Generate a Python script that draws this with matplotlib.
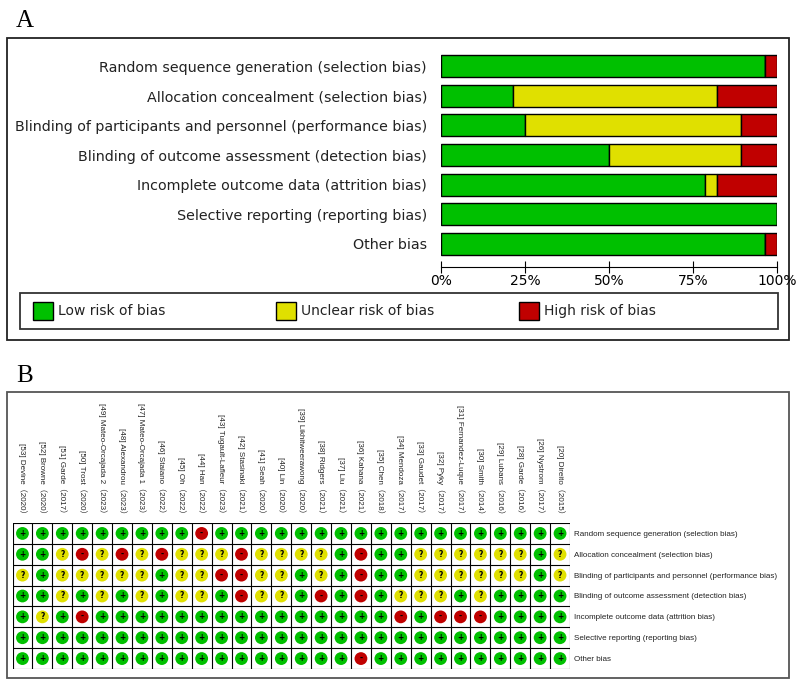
import matplotlib.pyplot as plt
from matplotlib import font_manager
from matplotlib.patches import Rectangle

# study labels (left to right in panel B)
studies = ['[53] Devine（2020）', '[52] Browne（2020）', '[51] Garde（2017）', '[50] Trost（2020）',
           '[49] Mateo-Orcajada 2（2023）', '[48] Alexandrou（2023）', '[47] Mateo-Orcajada 1（2023）',
           '[46] Staiano（2022）', '[45] Oh（2022）', '[44] Han（2022）', '[43] Tugault-Lafleur（2023）',
           '[42] Stasinaki（2021）', '[41] Seah（2020）', '[40] Lin（2020）', '[39] Likhitweerawong（2020）',
           '[38] Ridgers（2021）', '[37] Liu（2021）', '[36] Kahana（2021）', '[35] Chen（2018）',
           '[34] Mendoza（2017）', '[33] Gaudet（2017）', '[32] Pyky（2017）', '[31] Fernandez-Luque（2017）',
           '[30] Smith（2014）', '[29] Lubans（2016）', '[28] Garde（2016）', '[26] Nystrom（2017）',
           '[20] Direito（2015）']

domains = ['Random sequence generation (selection bias)',
           'Allocation concealment (selection bias)',
           'Blinding of participants and personnel (performance bias)',
           'Blinding of outcome assessment (detection bias)',
           'Incomplete outcome data (attrition bias)',
           'Selective reporting (reporting bias)',
           'Other bias']

# L = low, U = unclear, H = high risk; one entry per study
random_sequence = list('LLLLLLLLLHLLLL' + 'LLLLLLLLLLLLLL')
allocation      = list('LLUHUHUHUUUHUU' + 'UULHLLUUUUUULU')
blinding_part   = list('ULUUUUULUUHHUU' + 'LULHLLUUUUUULU')
blinding_outc   = list('LLULULULUULHUU' + 'LHLHLUUULULLLL')
incomplete      = list('LULHLLLLLLLLLL' + 'LLLLLHLHHHLLLL')
selective       = list('LLLLLLLLLLLLLL' + 'LLLLLLLLLLLLLL')
other           = list('LLLLLLLLLLLLLL' + 'LLLHLLLLLLLLLL')
judgements = [random_sequence, allocation, blinding_part, blinding_outc,
              incomplete, selective, other]

legend_labels = ['Low risk of bias', 'Unclear risk of bias', 'High risk of bias']
colors = {'L': '#00c000', 'U': '#e0e000', 'H': '#c00000'}
symbols = {'L': '+', 'U': '?', 'H': '-'}

W, H = 800, 696
fig = plt.figure(figsize=(W / 100, H / 100), dpi=100)


def px_axes(x0, y0, x1, y1):
    return fig.add_axes([x0 / W, 1 - y1 / H, (x1 - x0) / W, (y1 - y0) / H])


names = {f.name for f in font_manager.fontManager.ttflist}
small_font = 'Liberation Sans Narrow' if 'Liberation Sans Narrow' in names else 'Liberation Sans'
small_size = 7 if small_font == 'Liberation Sans Narrow' else 5.8

# overlay for frames, legend and panel letters
over = fig.add_axes([0, 0, 1, 1])
over.set_xlim(0, W)
over.set_ylim(H, 0)
over.axis('off')
over.add_patch(Rectangle((7, 38), 782, 302, fill=False, ec='#222222', lw=1.3))
over.add_patch(Rectangle((20, 293), 758, 36, fill=False, ec='#333333', lw=1.3))
over.add_patch(Rectangle((7, 392), 782, 286, fill=False, ec='#555555', lw=1.3))
over.text(16, 21, 'A', fontsize=18, family='Liberation Serif', va='center')
over.text(16, 376, 'B', fontsize=18, family='Liberation Serif', va='center')
for x, key, lab in zip([33, 276, 519], ['L', 'U', 'H'], legend_labels):
    over.add_patch(Rectangle((x, 302), 20, 18, fc=colors[key], ec='black', lw=1))
    over.text(x + 25, 311, lab, fontsize=10, va='center', color='#222222')

# ---- panel A: summary bars ----
n = len(studies)
low = [100 * d.count('L') / n for d in judgements]
unc = [100 * d.count('U') / n for d in judgements]
high = [100 * d.count('H') / n for d in judgements]
rows = range(len(domains))

axA = px_axes(441, 51.2, 777, 258.8)
axA.barh(rows, low, height=0.74, color=colors['L'], edgecolor='black', lw=1)
axA.barh(rows, unc, left=low, height=0.74, color=colors['U'], edgecolor='black', lw=1)
axA.barh(rows, high, left=[a + b for a, b in zip(low, unc)], height=0.74,
         color=colors['H'], edgecolor='black', lw=1)
axA.set_xlim(0, 100)
axA.set_ylim(6.5, -0.5)
for s in ['top', 'right', 'left']:
    axA.spines[s].set_visible(False)
axA.spines['bottom'].set_position(('outward', 6))
axA.set_yticks(list(rows), domains, fontsize=10.3, color='#222222')
axA.tick_params(axis='y', length=0, pad=10)
axA.set_xticks([0, 25, 50, 75, 100], ['0%', '25%', '50%', '75%', '100%'], fontsize=10)
axA.tick_params(axis='x', direction='inout', length=8, pad=1)
axA.set_facecolor('none')

# ---- panel B: traffic light grid ----
axB = px_axes(12.5, 523, 570, 669)
axB.set_xlim(-0.5, n - 0.5)
axB.set_ylim(len(domains) - 0.5, -0.5)
for i in range(n + 1):
    axB.axvline(i - 0.5, color='black', lw=0.8)
for j in range(len(domains) + 1):
    axB.axhline(j - 0.5, color='black', lw=0.8)
for j, row in enumerate(judgements):
    xs = list(range(n))
    axB.scatter(xs, [j] * n, s=85, c=[colors[k] for k in row], zorder=3, lw=0)
    for i, k in enumerate(row):
        axB.text(i, j, symbols[k], fontsize=5.5, ha='center', va='center',
                 fontweight='bold', zorder=4)
axB.xaxis.tick_top()
axB.set_xticks(range(n))
axB.set_xticklabels(studies, rotation=270, va='bottom', ha='center', fontsize=small_size,
                    family=[small_font, 'Noto Sans CJK SC'], color='#222222')
axB.yaxis.tick_right()
axB.set_yticks(list(rows))
axB.set_yticklabels(domains, fontsize=small_size, family=[small_font, 'DejaVu Sans'],
                    color='#222222')
axB.tick_params(axis='both', length=0)
axB.tick_params(axis='x', pad=4)
axB.tick_params(axis='y', pad=3)
for s in axB.spines.values():
    s.set_visible(False)

fig.savefig('out.png', dpi=100)
